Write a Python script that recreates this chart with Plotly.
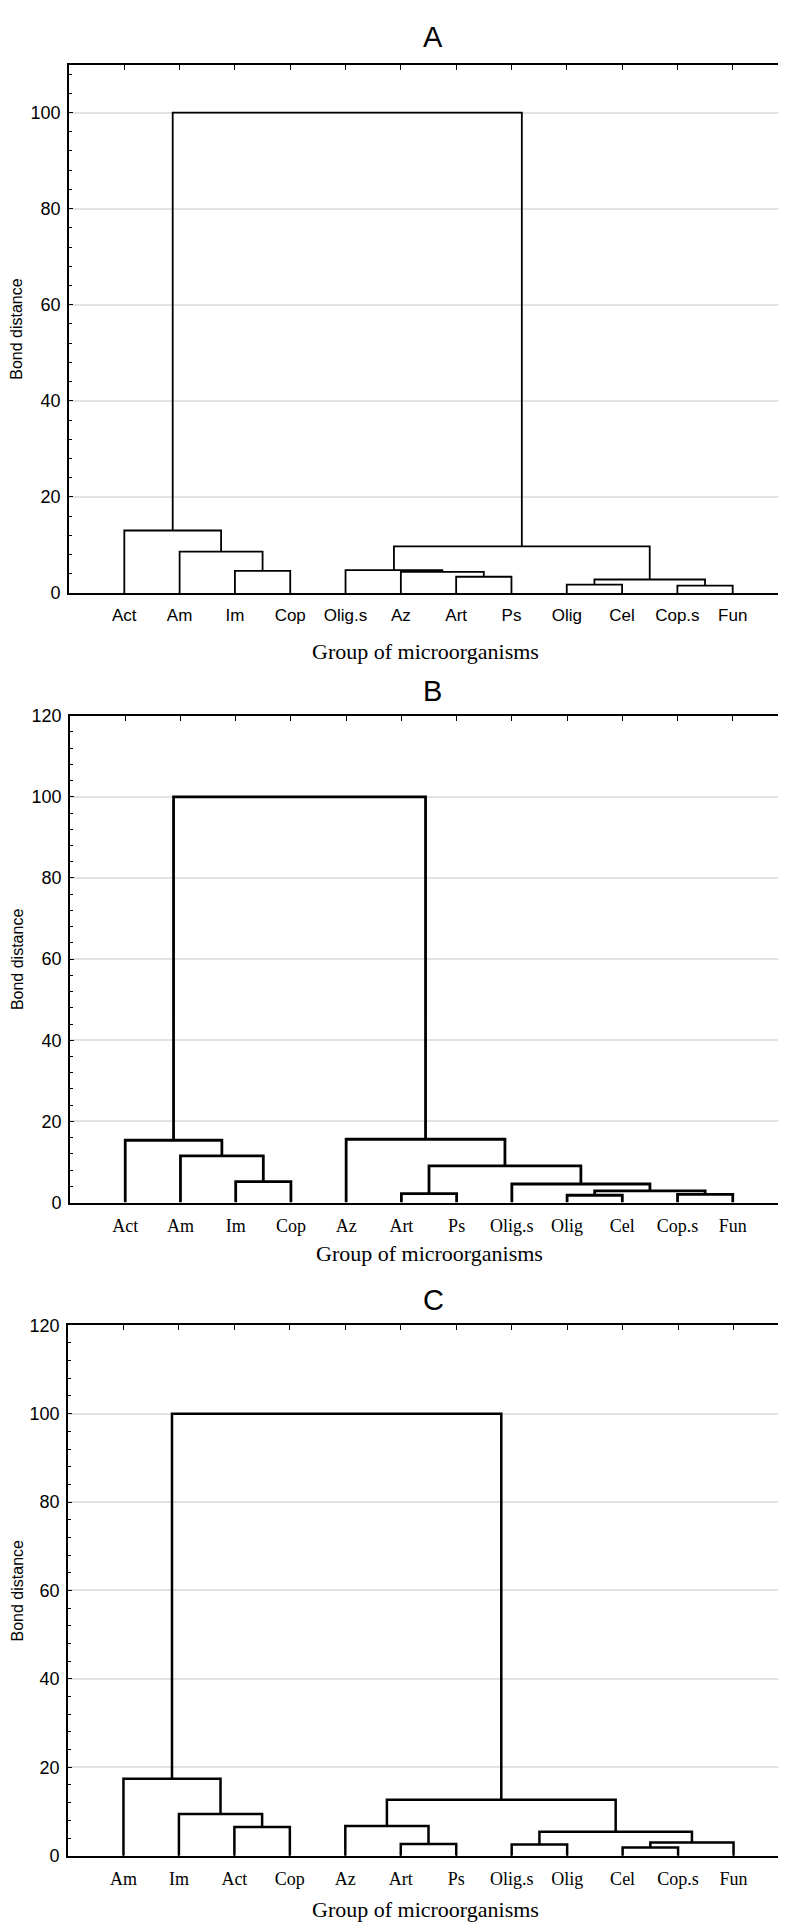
import plotly.graph_objects as go

# ---------------- data ----------------
leaves_A = ["Act", "Am", "Im", "Cop", "Olig.s", "Az", "Art", "Ps", "Olig", "Cel", "Cop.s", "Fun"]
pairs_A = [("Im", "Cop"), ("Am", "m0"), ("Act", "m1"),
           ("Art", "Ps"), ("Az", "m3"), ("Olig.s", "m4"),
           ("Olig", "Cel"), ("Cop.s", "Fun"), ("m6", "m7"),
           ("m5", "m8"), ("m2", "m9")]
heights_A = [4.6, 8.6, 13.0, 3.37, 4.4, 4.74, 1.72, 1.51, 2.8, 9.7, 100.0]

leaves_B = ["Act", "Am", "Im", "Cop", "Az", "Art", "Ps", "Olig.s", "Olig", "Cel", "Cop.s", "Fun"]
pairs_B = [("Im", "Cop"), ("Am", "m0"), ("Act", "m1"),
           ("Art", "Ps"), ("Olig", "Cel"), ("Cop.s", "Fun"), ("m4", "m5"),
           ("Olig.s", "m6"), ("m3", "m7"), ("Az", "m8"), ("m2", "m9")]
heights_B = [5.14, 11.5, 15.35, 2.2, 1.8, 2.04, 2.86, 4.57, 9.06, 15.6, 100.0]

leaves_C = ["Am", "Im", "Act", "Cop", "Az", "Art", "Ps", "Olig.s", "Olig", "Cel", "Cop.s", "Fun"]
pairs_C = [("Act", "Cop"), ("Im", "m0"), ("Am", "m1"),
           ("Art", "Ps"), ("Az", "m3"), ("Olig.s", "Olig"),
           ("Cel", "Cop.s"), ("m6", "Fun"), ("m5", "m7"),
           ("m4", "m8"), ("m2", "m9")]
heights_C = [6.52, 9.44, 17.38, 2.62, 6.74, 2.55, 1.87, 3.0, 5.39, 12.66, 100.0]

panel_titles = ["A", "B", "C"]
y_max = [110, 120, 120]
x_title = "Group of microorganisms"
y_title = "Bond distance"

# ---------------- layout geometry (pixels) ----------------
W, H = 786, 1924
panels = [
    dict(leaves=leaves_A, pairs=pairs_A, heights=heights_A, x0=61, x1=780, y0=47, y1=581,
         lw=1.8, xfont="Liberation Sans", xsize=17, title_y=19, title_x=425, xt_y=640, xt_x=417),
    dict(leaves=leaves_B, pairs=pairs_B, heights=heights_B, x0=62, x1=780, y0=705, y1=1197,
         lw=2.8, xfont="Liberation Serif", xsize=18, title_y=680, title_x=424, xt_y=1248, xt_x=421),
    dict(leaves=leaves_C, pairs=pairs_C, heights=heights_C, x0=60, x1=781, y0=1321, y1=1857,
         lw=2.5, xfont="Liberation Serif", xsize=18, title_y=1295, title_x=425, xt_y=1911, xt_x=417),
]


def dendro_segments(leaves, pairs, heights):
    pos = {name: i + 1 for i, name in enumerate(leaves)}
    hgt = {name: 0.0 for name in leaves}
    xs, ys = [], []
    for k, ((a, b), h) in enumerate(zip(pairs, heights)):
        xa, xb = pos[a], pos[b]
        xs += [xa, xa, xb, xb, None]
        ys += [hgt[a], h, h, hgt[b], None]
        name = "m%d" % k
        pos[name] = (xa + xb) / 2.0
        hgt[name] = h
    return xs, ys


fig = go.Figure()
annotations = []
for i, p in enumerate(panels):
    sfx = "" if i == 0 else str(i + 1)
    xs, ys = dendro_segments(p["leaves"], p["pairs"], p["heights"])
    fig.add_trace(go.Scatter(x=xs, y=ys, mode="lines",
                             line=dict(color="black", width=p["lw"]),
                             xaxis="x" + sfx, yaxis="y" + sfx,
                             hoverinfo="skip", showlegend=False, connectgaps=False))
    xdom = [p["x0"] / W, p["x1"] / W]
    ydom = [1 - p["y1"] / H, 1 - p["y0"] / H]
    fig.layout["xaxis" + sfx] = dict(
        domain=xdom, anchor="y" + sfx, range=[0, 13],
        tickvals=list(range(1, 13)), ticktext=p["leaves"],
        ticks="inside", ticklen=5, tickwidth=1.2, tickcolor="black",
        showline=True, linecolor="black", linewidth=2.2, mirror="allticks",
        showgrid=False, zeroline=False, ticklabelstandoff=6,
        tickfont=dict(family=p["xfont"], size=p["xsize"], color="black"),
    )
    fig.layout["yaxis" + sfx] = dict(
        domain=ydom, anchor="x" + sfx, range=[0, y_max[i]],
        tickvals=list(range(0, y_max[i] + 1, 20)),
        ticks="inside", ticklen=4, tickwidth=1.2, tickcolor="black",
        minor=dict(dtick=4, ticks="inside", ticklen=3, tickwidth=1, tickcolor="black", showgrid=False),
        showline=True, linecolor="black", linewidth=1.6, mirror="allticks",
        showgrid=True, gridcolor="#e2e2e2", gridwidth=1.5, zeroline=False,
        ticklabelstandoff=3,
        tickfont=dict(family="Liberation Sans", size=18, color="black"),
    )
    annotations.append(dict(text=panel_titles[i], xref="paper", yref="paper",
                            x=p["title_x"] / W, y=1 - p["title_y"] / H,
                            xanchor="center", yanchor="middle", showarrow=False,
                            font=dict(family="Liberation Sans", size=29, color="black")))
    annotations.append(dict(text=x_title, xref="paper", yref="paper",
                            x=p["xt_x"] / W, y=1 - p["xt_y"] / H,
                            xanchor="center", yanchor="middle", showarrow=False,
                            font=dict(family="Liberation Serif", size=22, color="black")))
    annotations.append(dict(text=y_title, xref="paper", yref="paper", textangle=-90,
                            x=9 / W, y=1 - (p["y0"] + p["y1"]) / 2 / H,
                            xanchor="center", yanchor="middle", showarrow=False,
                            font=dict(family="Liberation Sans", size=16, color="black")))

fig.update_layout(width=W, height=H, margin=dict(l=0, r=0, t=0, b=0),
                  paper_bgcolor="white", plot_bgcolor="white",
                  annotations=annotations, showlegend=False)

fig.write_html("out.html")
